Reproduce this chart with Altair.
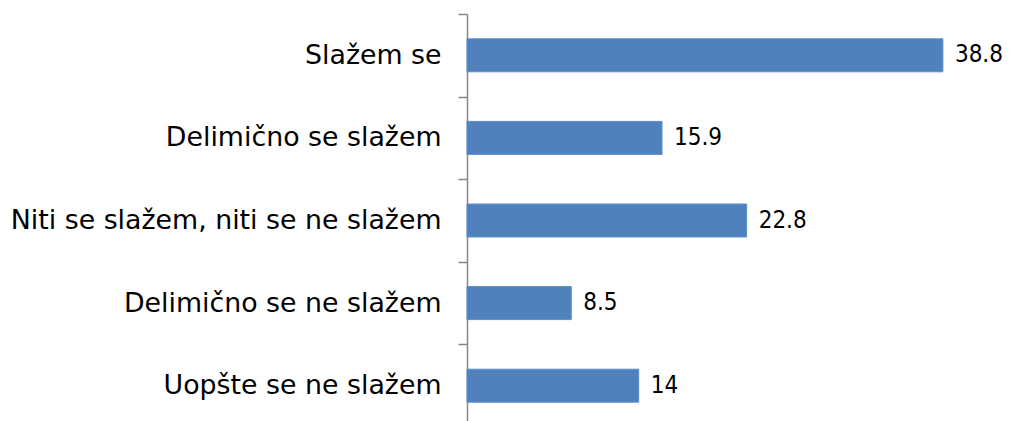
import altair as alt
import pandas as pd

categories = [
    "Slažem se",
    "Delimično se slažem",
    "Niti se slažem, niti se ne slažem",
    "Delimično se ne slažem",
    "Uopšte se ne slažem",
]
values = [38.8, 15.9, 22.8, 8.5, 14]
value_labels = ["38.8", "15.9", "22.8", "8.5", "14"]

df = pd.DataFrame({"cat": categories, "val": values, "lab": value_labels})

FONT = "DejaVu Sans"
VFONT = "DejaVu Sans Condensed, Liberation Sans, sans-serif"

y = alt.Y(
    "cat:N",
    sort=categories,
    title=None,
    scale=alt.Scale(paddingInner=0, paddingOuter=0),
    axis=alt.Axis(
        grid=False,
        tickBand="extent",
        tickSize=9,
        tickColor="#868686",
        domainColor="#868686",
        tickWidth=1.5,
        domainWidth=1.5,
        labelPadding=17,
        labelFont=FONT,
        labelFontSize=26.8,
        labelColor="#000000",
        labelLimit=600,
    ),
)
x = alt.X("val:Q", title=None, scale=alt.Scale(domain=[0, 43.7], nice=False, zero=True), axis=None)

bars = alt.Chart(df).mark_bar(size=33, color="#4F81BD", stroke="#5B8DC9", strokeWidth=1).encode(x=x, y=y)
text = alt.Chart(df).mark_text(align="left", baseline="middle", dx=12, font=VFONT, fontSize=24, color="#000000").encode(
    x=x, y=y, text="lab:N"
)

chart = (
    (bars + text)
    .properties(
        width=536,
        height=413,
        autosize=alt.AutoSizeParams(type="none"),
        padding={"left": 459, "top": 6, "right": 0, "bottom": -6},
    )
    .configure(background="white")
    .configure_view(strokeWidth=0, stroke="transparent")
)

chart.save("out.html", embed_options={"renderer": "svg", "actions": False})
